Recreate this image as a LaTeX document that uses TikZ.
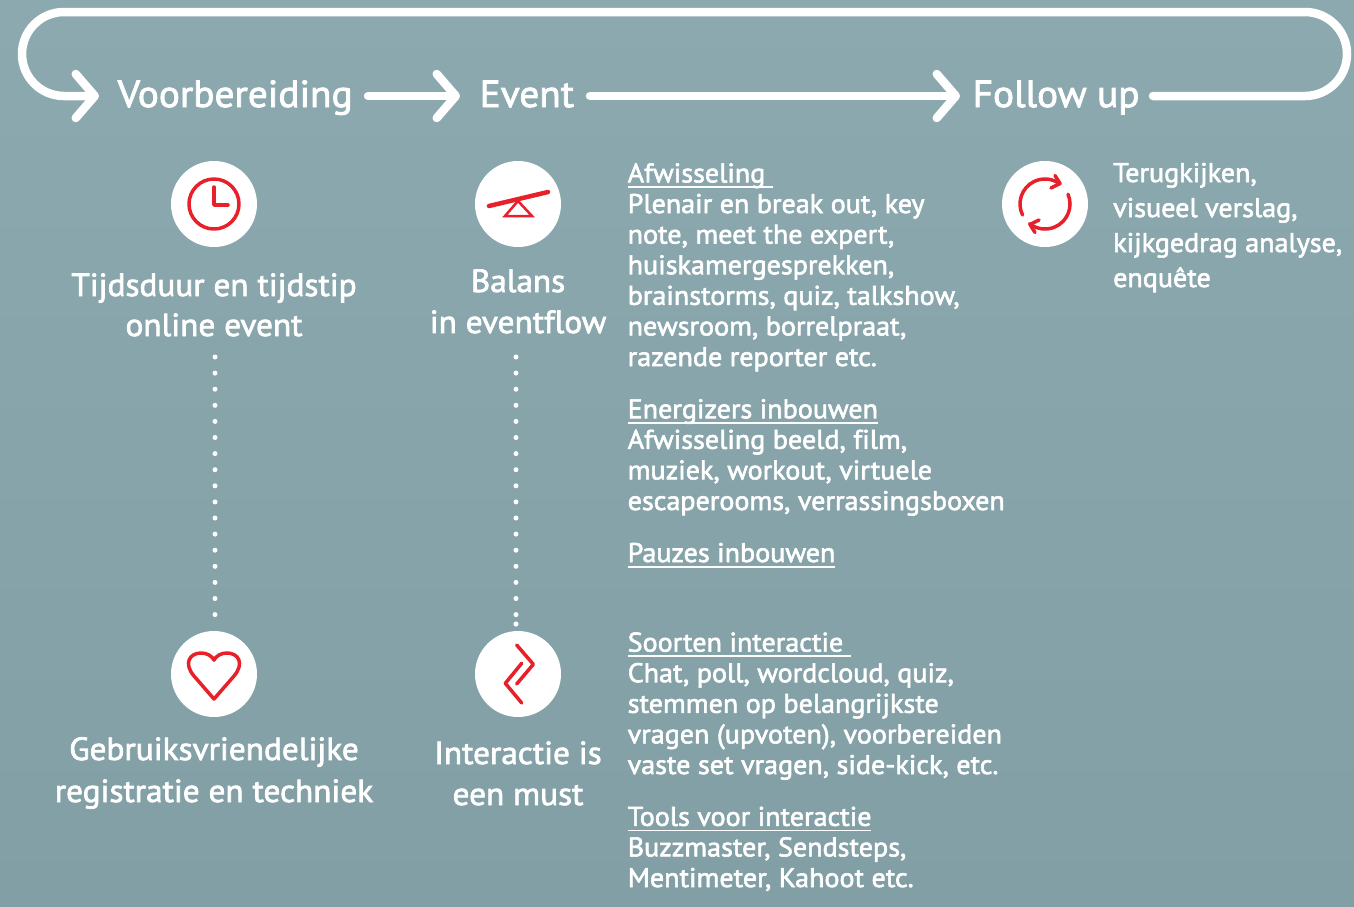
\documentclass[tikz,border=0pt]{standalone}
\usepackage{fontspec}
\setmainfont[FakeBold=2.2,FakeStretch=1.04,Ligatures=NoCommon]{PT Sans}
\usetikzlibrary{arrows.meta}
\definecolor{bgtop}{HTML}{8CA9AF}
\definecolor{bgbot}{HTML}{819FA5}
\definecolor{iconred}{HTML}{E8202A}
\newcommand\hul[1]{\setbox0=\hbox{#1}\rlap{\rule[-5.5pt]{\wd0}{1.8pt}}\box0}
\tikzset{
  x=1pt,y=-1pt,
  flow/.style={draw=white,line width=8.5pt,line cap=round,line join=round,-{Straight Barb[length=19pt,width=44pt,line width=8.5pt,round]}},
  head/.style={text=white,font=\fontsize{37.8}{42}\selectfont,anchor=base west,inner xsep=0pt,inner ysep=0pt},
  mid/.style={text=white,font=\fontsize{32}{41}\selectfont,align=center,anchor=base,inner sep=0pt},
  body/.style={text=white,font=\fontsize{27}{30.6}\selectfont,align=left,anchor=base west,inner sep=0pt},
  follow/.style={text=white,font=\fontsize{27}{35}\selectfont,align=left,anchor=base west,inner sep=0pt},
  disc/.style={circle,fill=white,draw=none,minimum size=86pt,inner sep=0pt},
  icon/.style={draw=iconred,line width=3.5pt,line cap=round,line join=round},
  dots/.style={draw=white,line width=5pt,line cap=round,dash pattern=on 0pt off 16.1pt},
}
\begin{document}
\begin{tikzpicture}
\path[use as bounding box,top color=bgtop,bottom color=bgbot] (0,0) rectangle (1354,906);

\node[head] (voor) at (117.5,107) {Voorbereiding};
\node[head] (event) at (479.5,107) {Event};
\node[head] (fu) at (972.5,107) {Follow up};

\coordinate (vIn) at (99,96);
\coordinate (vOut) at (368,96);
\coordinate (eIn) at (460,96);
\coordinate (eOut) at (590,96);
\coordinate (fIn) at (960,96);
\coordinate (fOut) at (1153,96);

\draw[flow] (vOut) -- (eIn);
\draw[flow] (eOut) -- (fIn);
\draw[flow] (fOut) -- (1305,96) arc[start angle=90,end angle=-90,radius=42] -- (64,12) arc[start angle=-90,end angle=-270,radius=42] -- (vIn);

\node[disc] (clock) at (214,204) {};
\node[disc] (balance) at (518,204) {};
\node[disc] (heart) at (214,674) {};
\node[disc] (inter) at (518,674) {};
\node[disc] (cycle) at (1045,204) {};

% clock
\draw[icon] (214,204) circle[radius=25];
\draw[icon] (214,187) -- (214,205) -- (228,205);
% seesaw
\draw[icon,line width=4.5pt] (489,206) -- (548,192);
\draw[icon,line width=2.5pt,line cap=butt,line join=miter] (518,201) -- (505,216) -- (532,216) -- cycle;
% heart
\draw[icon] (214,699) -- (194,676) .. controls (183,663) and (190,653) .. (201,653) .. controls (207,653) and (212,656) .. (214,660) .. controls (216,656) and (221,653) .. (227,653) .. controls (238,653) and (245,663) .. (234,676) -- cycle;
% interaction
\draw[icon] (516.7,645) -- (533.3,664.3) -- (516.7,684);
\draw[icon] (521.7,663.3) -- (505.3,683.3) -- (521.7,703);
% cycle
\draw[icon] (1045,204) ++(-206:25) arc[start angle=-206,end angle=-54,radius=25];
\draw[icon] (1055,175.5) -- (1060,183.5) -- (1051,188);
\draw[icon] (1045,204) ++(-23:25) arc[start angle=-23,end angle=128,radius=25];
\draw[icon] (1035,232.5) -- (1030,224.5) -- (1039,220);

\node[mid] (t1) at (214,296) {Tijdsduur en tijdstip};
\node[mid] (t1b) at (214,336) {online event};
\node[mid] (t2) at (518,292) {Balans};
\node[mid] (t2b) at (518,333) {in eventflow};
\node[mid] (t3) at (214,760) {Gebruiksvriendelijke};
\node[mid] (t3b) at (214,802) {registratie en techniek};
\node[mid] (t4) at (518,764) {Interactie is};
\node[mid] (t4b) at (518,805) {een must};

\coordinate (d1a) at (215,357);
\coordinate (d1b) at (215,616);
\coordinate (d2a) at (516,357);
\coordinate (d2b) at (516,615);
\coordinate (d2c) at (516,624);
\draw[dots] (d1a) -- (d1b);
\draw[dots] (d2a) -- (d2b);
\fill[white] (d2c) circle[radius=2.6];

\node[body] (b1) at (627.5,366) {\hul{Afwisseling\ }\\Plenair en break out, key\\note, meet the expert,\\huiskamergesprekken,\\brainstorms, quiz, talkshow,\\newsroom, borrelpraat,\\razende reporter etc.};
\node[body] (b2) at (627.5,510) {\hul{Energizers inbouwen}\\Afwisseling beeld, film,\\muziek, workout, virtuele\\escaperooms, verrassingsboxen};
\node[body] (b3) at (627.5,562) {\hul{Pauzes inbouwen}};
\node[body] (b4) at (627.5,774) {\hul{Soorten interactie\ }\\Chat, poll, wordcloud, quiz,\\stemmen op belangrijkste\\vragen (upvoten), voorbereiden\\vaste set vragen, side-kick, etc.};
\node[body] (b5) at (627.5,887) {\hul{Tools voor interactie}\\Buzzmaster, Sendsteps,\\Mentimeter, Kahoot etc.};
\node[follow] (f1) at (1113,287) {Terugkijken,\\visueel verslag,\\kijkgedrag analyse,\\enquête};
\end{tikzpicture}
\end{document}
